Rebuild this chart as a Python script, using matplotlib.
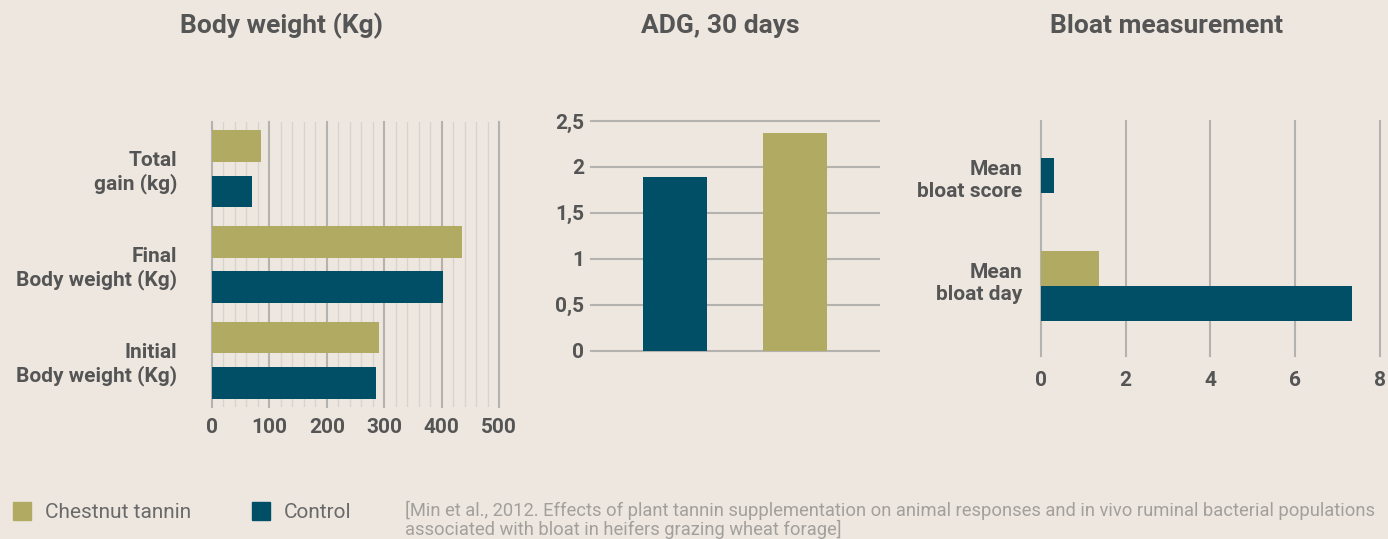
"""
Chestnut tannin vs control: body weight, ADG and bloat panels
"""

import numpy as np
import matplotlib.pyplot as plt

# data
bw_labels = ['Total\ngain (kg)', 'Final\nBody weight (Kg)', 'Initial\nBody weight (Kg)']
bw_chestnut = [85, 435, 290]
bw_control = [70, 402, 285]

adg_groups = ['Control', 'Chestnut tannin']
adg_values = [1.89, 2.37]
adg_ticks = [0, 0.5, 1, 1.5, 2, 2.5]
adg_ticklabels = ['0', '0,5', '1', '1,5', '2', '2,5']

bloat_labels = ['Mean\nbloat score', 'Mean\nbloat day']
bloat_chestnut = [0, 1.38]
bloat_control = [0.31, 7.34]

legend_names = ['Chestnut tannin', 'Control']
citation = ('[Min et al., 2012. Effects of plant tannin supplementation on animal responses '
            'and in vivo ruminal bacterial populations\nassociated with bloat in heifers '
            'grazing wheat forage]')

BG = '#ede7e0'
CHESTNUT = '#b0aa62'
CONTROL = '#004f66'
TEXT = '#555555'
GRID = '#b4b2ae'
MINOR = '#d8d3cc'

plt.rcParams['font.family'] = ['Roboto', 'DejaVu Sans']


def style_axis(ax):
    ax.set_facecolor('none')
    for s in ax.spines.values():
        s.set_visible(False)
    ax.tick_params(length=0, labelcolor=TEXT, labelsize=15)
    for lab in ax.get_xticklabels() + ax.get_yticklabels():
        lab.set_fontweight('bold')


def main():
    fig = plt.figure(figsize=(13.88, 5.39), dpi=100)
    fig.patch.set_facecolor(BG)

    # --- Body weight ---
    ax1 = fig.add_axes([0.1527, 0.2453, 0.2070, 0.5280])
    y = np.arange(len(bw_labels))
    h = 0.33
    ax1.barh(y - 0.238, bw_chestnut, height=h, color=CHESTNUT, zorder=3)
    ax1.barh(y + 0.238, bw_control, height=h, color=CONTROL, zorder=3)
    ax1.set_xlim(0, 500)
    ax1.set_ylim(len(bw_labels) - 1 + 0.487, -0.487)
    ax1.set_xticks(np.arange(0, 501, 100))
    ax1.set_xticks(np.arange(0, 501, 20), minor=True)
    ax1.grid(axis='x', which='major', color=GRID, lw=1.5, zorder=1)
    ax1.grid(axis='x', which='minor', color=MINOR, lw=1.0, zorder=0)
    for line in ax1.get_xgridlines():
        line.set_clip_on(False)
    ax1.tick_params(which='minor', length=0)
    ax1.set_yticks(y)
    ax1.set_yticklabels(bw_labels, ha='right', linespacing=1.2)
    style_axis(ax1)
    ax1.tick_params(axis='x', pad=8)
    ax1.tick_params(axis='y', pad=25)

    # --- ADG ---
    ax2 = fig.add_axes([0.4256, 0.3494, 0.2077, 0.4262])
    x = np.arange(len(adg_values))
    ax2.bar(x, adg_values, width=0.533, color=[CONTROL, CHESTNUT], zorder=3)
    ax2.set_xlim(-0.70, 1.70)
    ax2.set_ylim(0, 2.5)
    ax2.set_yticks(adg_ticks)
    ax2.set_yticklabels(adg_ticklabels)
    ax2.set_xticks([])
    ax2.grid(axis='y', color=GRID, lw=1.5, zorder=1)
    for line in ax2.get_ygridlines():
        line.set_clip_on(False)
    style_axis(ax2)
    ax2.tick_params(axis='y', pad=5)

    # --- Bloat ---
    ax3 = fig.add_axes([0.7498, 0.3395, 0.2445, 0.4366])
    yb = np.arange(len(bloat_labels))
    hb = 0.273
    ax3.barh(yb - hb / 2, bloat_chestnut, height=hb, color=CHESTNUT, zorder=3)
    ax3.barh(yb + hb / 2, bloat_control, height=hb, color=CONTROL, zorder=3)
    ax3.set_xlim(0, 8)
    ax3.set_ylim(1.547, -0.29)
    ax3.set_xticks(np.arange(0, 9, 2))
    ax3.grid(axis='x', color=GRID, lw=1.5, zorder=1)
    for line in ax3.get_xgridlines():
        line.set_clip_on(False)
    ax3.set_yticks(yb + np.array([0.15, -0.05]))
    ax3.set_yticklabels(bloat_labels, ha='right', linespacing=1.2)
    style_axis(ax3)
    ax3.tick_params(axis='x', pad=11)
    ax3.tick_params(axis='y', pad=13)

    # titles
    for xc, t in [(282, 'Body weight (Kg)'), (720, 'ADG, 30 days'), (1167, 'Bloat measurement')]:
        fig.text(xc / 1388, 1 - 26 / 539, t, ha='center', va='center',
                 fontsize=19, fontweight='bold', color=TEXT)

    # legend
    for x0, name, col in [(13, legend_names[0], CHESTNUT), (252, legend_names[1], CONTROL)]:
        fig.patches.append(plt.Rectangle((x0 / 1388, 1 - 520 / 539), 18 / 1388, 18 / 539,
                                         transform=fig.transFigure, color=col))
        fig.text((x0 + 32) / 1388, 1 - 512 / 539, name, ha='left', va='center',
                 fontsize=15, color='#6a6a6a')
    fig.text(405 / 1388, 1 - 501 / 539, citation, ha='left', va='top',
             fontsize=13.2, color='#a3a09c', linespacing=1.0)

    fig.savefig('out.png', dpi=100, facecolor=BG)


if __name__ == '__main__':
    main()
